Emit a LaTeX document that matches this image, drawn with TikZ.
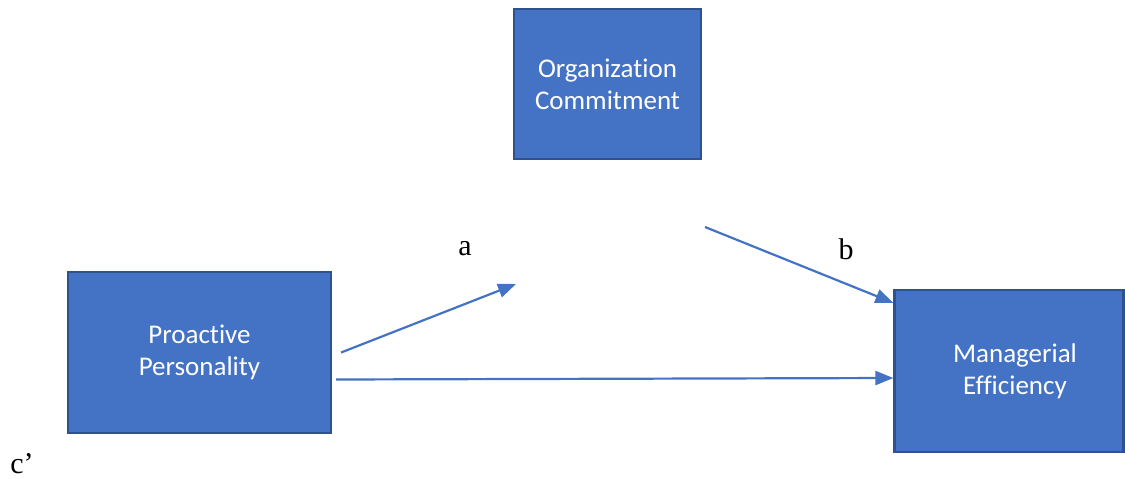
\documentclass[tikz,border=0pt]{standalone}
\usepackage{fontspec}
\setsansfont{Carlito}[Ligatures=NoCommon]
\setmainfont{Liberation Serif}
\usetikzlibrary{arrows.meta}
\definecolor{boxfill}{HTML}{4472C4}
\definecolor{boxedge}{HTML}{2F528F}
\tikzset{
  x=1pt,y=-1pt,
  varbox/.style={draw=boxedge, line width=2.2pt, fill=boxfill, text=white,
    align=center, inner sep=0pt, font=\sffamily\fontsize{27}{32}\selectfont},
  path/.style={draw=boxfill, line width=2.2pt, -{Triangle[length=18pt,width=14pt]}},
  pathlabel/.style={font=\fontsize{30}{34}\selectfont, text=black, inner sep=0pt}
}
\begin{document}
\begin{tikzpicture}
\useasboundingbox (0,0) rectangle (1125,479);
\node[varbox, minimum width=187pt, minimum height=150pt] (oc) at (607.5,84) {Organization\\Commitment};
\node[varbox, minimum width=263pt, minimum height=161pt] (pp) at (199.5,352.5) {Proactive\\Personality};
\node[varbox, minimum width=229pt, minimum height=162pt] (me) at (1009,371) {\hspace*{12pt}Managerial\\\hspace*{12pt}Efficiency};
\coordinate (aend) at (516,284);
\coordinate (bstart) at (705,227);
\draw[path] ([xshift=9pt]pp.east) -- (aend);
\draw[path] (bstart) -- ([yshift=-14pt]me.north west);
\draw[path] ([xshift=4pt,yshift=-27pt]pp.east) -- ([yshift=-7pt]me.west);
\node[pathlabel] (la) at (465,249) {a};
\node[pathlabel] (lb) at (846,249) {b};
\node[pathlabel] (lc) at (22,464) {c’};
\end{tikzpicture}
\end{document}
